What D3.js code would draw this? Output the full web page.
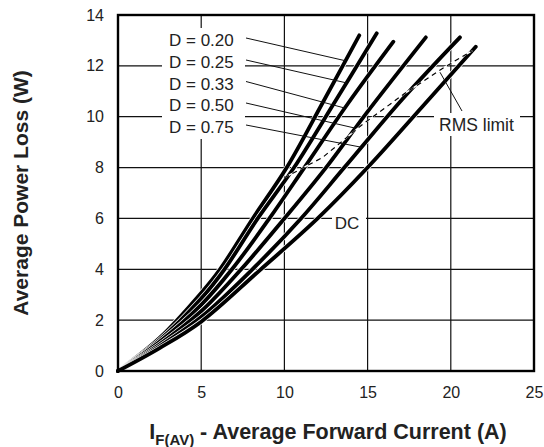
<!DOCTYPE html>
<html>
<head>
<meta charset="utf-8">
<script src="https://cdn.jsdelivr.net/npm/d3@7"></script>
<style>
  body { margin: 0; background: #fff; }
  svg text { font-family: "Liberation Sans", Arial, Helvetica, sans-serif; fill: #222; }
</style>
</head>
<body>
<div id="chart"></div>
<script>
// chart size and plot box
const width = 544;
const height = 447;
const margin = { top: 15, right: 10, bottom: 76, left: 118 };
const innerW = width - margin.left - margin.right;
const innerH = height - margin.top - margin.bottom;

// tick values
const xTicks = [0, 5, 10, 15, 20, 25];
const yTicks = [0, 2, 4, 6, 8, 10, 12, 14];

// curve names (left to right)
const seriesNames = ["D = 0.20", "D = 0.25", "D = 0.33", "D = 0.50", "D = 0.75", "DC"];

// [current A, power W]
const d020 = [[0,0],[2.5,1.3],[5,3.07],[6.13,4],[8.1,6],[10.14,8],[12.3,10.55],[14.5,13.2]];
const d025 = [[0,0],[2.5,1.22],[5,2.85],[6.4,4],[8.4,6],[10.58,8],[13.0,10.55],[15.55,13.28]];
const d033 = [[0,0],[2.5,1.15],[5,2.6],[6.85,4],[9.1,6],[11.2,8],[13.8,10.5],[16.55,12.95]];
const d050 = [[0,0],[2.5,1.05],[5,2.35],[7.4,4],[10.0,6],[12.5,8],[15.0,10.2],[18.5,13.12]];
const d075 = [[0,0],[2.5,0.97],[5,2.12],[8.0,3.95],[11.0,6],[13.6,8],[17.1,10.7],[20.55,13.12]];
const dDC  = [[0,0],[2.5,0.9],[5,1.94],[8.5,3.95],[12.0,6],[15,8],[18.3,10.4],[21.5,12.75]];
const seriesData = [d020, d025, d033, d050, d075, dDC];

// RMS limit dashed line
const rmsLimit = [[10.0,7.6],[12.3,8.4],[14.7,9.7],[17.2,10.9],[19.5,11.9],[21.3,12.6]];

// where each duty leader meets its curve (power, W)
const leaderLevels = [12.2, 11.33, 10.34, 9.55, 8.8];

var svg = d3.select("#chart")
    .append("svg")
    .attr("width", width)
    .attr("height", height);

var g = svg.append("g")
    .attr("transform", "translate(" + margin.left + "," + margin.top + ")");

var x = d3.scaleLinear().domain([0, 25]).range([0, innerW]);
var y = d3.scaleLinear().domain([0, 14]).range([innerH, 0]);

// grid
g.append("g")
    .selectAll("line")
    .data(xTicks.slice(1, -1))
    .enter().append("line")
    .attr("x1", d => x(d)).attr("x2", d => x(d))
    .attr("y1", 0).attr("y2", innerH)
    .attr("stroke", "#111").attr("stroke-width", 1.2);

g.append("g")
    .selectAll("line")
    .data(yTicks.slice(1, -1))
    .enter().append("line")
    .attr("x1", 0).attr("x2", innerW)
    .attr("y1", d => y(d)).attr("y2", d => y(d))
    .attr("stroke", "#111").attr("stroke-width", 1.2);

// white boxes behind labels (break the grid)
g.append("rect")
    .attr("x", 44).attr("y", 13).attr("width", 83).attr("height", 111)
    .attr("fill", "#fff");
g.append("rect")
    .attr("x", 316).attr("y", 98).attr("width", 86).attr("height", 23)
    .attr("fill", "#fff");
g.append("rect")
    .attr("x", 214).attr("y", 196).attr("width", 34).attr("height", 19)
    .attr("fill", "#fff");

// curves
var line = d3.line()
    .x(d => x(d[0]))
    .y(d => y(d[1]))
    .curve(d3.curveCatmullRom.alpha(0.5));

var paths = [];
seriesData.forEach(function (s) {
    g.append("path")
        .attr("d", line(s))
        .attr("fill", "none")
        .attr("stroke", "#fff")
        .attr("stroke-width", 5.2);
    var p = g.append("path")
        .attr("d", line(s))
        .attr("fill", "none")
        .attr("stroke", "#000")
        .attr("stroke-width", 3.8)
        .attr("stroke-linecap", "round");
    paths.push(p.node());
});

// RMS limit: white under-line with black dashes
var rmsLine = d3.line().x(d => x(d[0])).y(d => y(d[1])).curve(d3.curveLinear);
g.append("path")
    .attr("d", rmsLine(rmsLimit))
    .attr("fill", "none").attr("stroke", "#fff").attr("stroke-width", 1.4);
g.append("path")
    .attr("d", rmsLine(rmsLimit))
    .attr("fill", "none").attr("stroke", "#000").attr("stroke-width", 1.2)
    .attr("stroke-dasharray", "5,4");

// find x on a path at a given pixel y
function pointAtY(node, py) {
    var len = node.getTotalLength(), lo = 0, hi = len;
    for (var k = 0; k < 40; k++) {
        var mid = (lo + hi) / 2;
        if (node.getPointAtLength(mid).y > py) lo = mid; else hi = mid;
    }
    return node.getPointAtLength(lo);
}

// duty labels and leaders
var labelY = [40, 62, 83.5, 105, 127];
seriesNames.slice(0, 5).forEach(function (name, i) {
    g.append("text")
        .attr("x", 51)
        .attr("y", labelY[i] - margin.top)
        .attr("dy", "0.36em")
        .attr("font-size", 17)
        .text(name);
    var pt = pointAtY(paths[i], y(leaderLevels[i]));
    g.append("line")
        .attr("x1", 128).attr("y1", labelY[i] - margin.top - 2)
        .attr("x2", pt.x).attr("y2", pt.y)
        .attr("stroke", "#111").attr("stroke-width", 1);
});

// RMS limit label + leader
g.append("line")
    .attr("x1", 344).attr("y1", 96)
    .attr("x2", x(19.35)).attr("y2", y(11.75))
    .attr("stroke", "#111").attr("stroke-width", 1);
g.append("text")
    .attr("x", 321).attr("y", 110)
    .attr("dy", "0.36em")
    .attr("font-size", 17.5)
    .text("RMS limit");

g.append("text")
    .attr("x", 229).attr("y", y(6) + 4)
    .attr("dy", "0.36em")
    .attr("text-anchor", "middle")
    .attr("font-size", 17)
    .text("DC");

// frame
g.append("rect")
    .attr("x", 0).attr("y", 0).attr("width", innerW).attr("height", innerH)
    .attr("fill", "none").attr("stroke", "#000").attr("stroke-width", 2.4);

// axes (labels only)
var xAxis = g.append("g")
    .attr("transform", "translate(0," + innerH + ")")
    .call(d3.axisBottom(x).tickValues(xTicks).tickSize(0).tickPadding(16));
var yAxis = g.append("g")
    .call(d3.axisLeft(y).tickValues(yTicks).tickSize(0).tickPadding(14));
[xAxis, yAxis].forEach(function (a) {
    a.select(".domain").remove();
    a.selectAll("text")
        .attr("font-size", 16)
        .attr("font-family", "Liberation Sans, Arial, sans-serif")
        .attr("fill", "#222");
});

// axis titles
var xt = svg.append("text")
    .attr("x", margin.left + innerW / 2 + 2)
    .attr("y", 439)
    .attr("text-anchor", "middle")
    .attr("font-size", 21.5)
    .attr("font-weight", "bold");
xt.append("tspan").text("I");
xt.append("tspan").attr("font-size", 15).attr("dy", 6).text("F(AV)");
xt.append("tspan").attr("dy", -6).text(" - Average Forward Current (A)");

svg.append("text")
    .attr("transform", "translate(28," + (margin.top + innerH / 2) + ") rotate(-90)")
    .attr("text-anchor", "middle")
    .attr("font-size", 21)
    .attr("font-weight", "bold")
    .text("Average Power Loss (W)");
</script>
</body>
</html>
